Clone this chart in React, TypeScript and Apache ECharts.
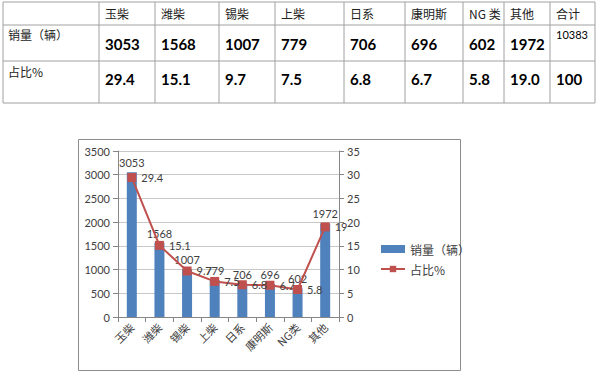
import React, { useEffect, useRef } from "react";
import * as echarts from "echarts";

const categories = ["玉柴", "潍柴", "锡柴", "上柴", "日系", "康明斯", "NG类", "其他"];
const tableHeaders = ["玉柴", "潍柴", "锡柴", "上柴", "日系", "康明斯", "NG 类", "其他", "合计"];
const sales = [3053, 1568, 1007, 779, 706, 696, 602, 1972];
const shares = [29.4, 15.1, 9.7, 7.5, 6.8, 6.7, 5.8, 19];
const salesTotal = 10383;
const sharesTotal = 100;
const leftTicks = { min: 0, max: 3500, interval: 500 };
const rightTicks = { min: 0, max: 35, interval: 5 };

const colX = [3, 99, 155, 219, 275, 344, 405, 463, 504, 550, 595];
const rowY = [2, 25, 61, 103];

export default function App() {
  const ref = useRef<HTMLDivElement>(null);
  useEffect(() => {
    document.body.style.margin = "0";
    const chart = echarts.init(ref.current!, null, { renderer: "svg" });
    const lineColor = "#a0a0a0";
    const graphics: any[] = [];
    graphics.push({
      type: "rect",
      shape: { x: colX[0], y: rowY[0], width: colX[colX.length - 1] - colX[0], height: rowY[3] - rowY[0] },
      style: { fill: "#fff", stroke: lineColor, lineWidth: 1 },
      z: 1,
    });
    for (let i = 1; i < colX.length - 1; i++) {
      graphics.push({
        type: "line",
        shape: { x1: colX[i], y1: rowY[0], x2: colX[i], y2: rowY[3] },
        style: { stroke: lineColor, lineWidth: 1 },
        z: 2,
      });
    }
    for (let j = 1; j < rowY.length - 1; j++) {
      graphics.push({
        type: "line",
        shape: { x1: colX[0], y1: rowY[j], x2: colX[colX.length - 1], y2: rowY[j] },
        style: { stroke: lineColor, lineWidth: 1 },
        z: 2,
      });
    }
    const cjk = "'Noto Sans CJK SC', sans-serif";
    const num = "Lato, 'Noto Sans', sans-serif";
    tableHeaders.forEach((h, i) => {
      graphics.push({
        type: "text",
        x: colX[i + 1] + 6,
        y: 13,
        style: { text: h, font: `12px ${cjk}`, fill: "#222", verticalAlign: "middle" },
        z: 3,
      });
    });
    graphics.push({
      type: "text", x: 8, y: 34,
      style: { text: "销量（辆）", font: `12px ${cjk}`, fill: "#222", verticalAlign: "middle" }, z: 3,
    });
    graphics.push({
      type: "text", x: 8, y: 71,
      style: { text: "占比%", font: `12px ${cjk}`, fill: "#222", verticalAlign: "middle" }, z: 3,
    });
    sales.forEach((v, i) => {
      graphics.push({
        type: "text", x: colX[i + 1] + 6, y: 44,
        style: { text: String(v), font: `bold 15px ${num}`, fill: "#000", verticalAlign: "middle" }, z: 3,
      });
    });
    graphics.push({
      type: "text", x: colX[9] + 6, y: 34,
      style: { text: String(salesTotal), font: `11px ${num}`, fill: "#000", verticalAlign: "middle" }, z: 3,
    });
    shares.forEach((v, i) => {
      graphics.push({
        type: "text", x: colX[i + 1] + 6, y: 79,
        style: { text: v.toFixed(1), font: `bold 15px ${num}`, fill: "#000", verticalAlign: "middle" }, z: 3,
      });
    });
    graphics.push({
      type: "text", x: colX[9] + 6, y: 79,
      style: { text: String(sharesTotal), font: `bold 15px ${num}`, fill: "#000", verticalAlign: "middle" }, z: 3,
    });
    graphics.push({
      type: "rect",
      shape: { x: 78.5, y: 139.5, width: 382, height: 231 },
      style: { fill: "none", stroke: "#8c8c8c", lineWidth: 1 },
      z: -1,
    });

    chart.setOption({
      animation: false,
      backgroundColor: "#fff",
      graphic: graphics,
      grid: { left: 118, right: 261, top: 151, bottom: 59 },
      legend: {
        orient: "vertical",
        left: 375,
        top: 238,
        itemGap: 8,
        itemWidth: 24,
        itemHeight: 8,
        textStyle: { fontSize: 12, color: "#404040", fontFamily: cjk },
        data: [
          { name: "销量（辆）", icon: "rect" },
          { name: "占比%" },
        ],
      },
      xAxis: {
        type: "category",
        data: categories,
        axisLine: { lineStyle: { color: "#868686" } },
        axisTick: { show: true, inside: false, length: 5, lineStyle: { color: "#868686" } },
        axisLabel: { rotate: 45, fontSize: 11, color: "#404040", fontFamily: cjk, margin: 8 },
      },
      yAxis: [
        {
          type: "value",
          ...leftTicks,
          axisLine: { show: true, lineStyle: { color: "#868686" } },
          axisTick: { show: true, length: 5, lineStyle: { color: "#868686" } },
          axisLabel: { fontSize: 11, color: "#404040", fontFamily: num, margin: 8, formatter: (v: number) => String(v) },
          splitLine: { lineStyle: { color: "#c8c8c8" } },
        },
        {
          type: "value",
          ...rightTicks,
          axisLine: { show: true, lineStyle: { color: "#868686" } },
          axisTick: { show: true, length: 5, lineStyle: { color: "#868686" } },
          axisLabel: { fontSize: 11, color: "#404040", fontFamily: num, margin: 8, formatter: (v: number) => String(v) },
          splitLine: { show: false },
        },
      ],
      series: [
        {
          name: "销量（辆）",
          type: "bar",
          data: sales,
          barWidth: 10,
          itemStyle: { color: "#4f81bd" },
          label: { show: true, position: "top", distance: 4, fontSize: 11, color: "#404040", fontFamily: num },
        },
        {
          name: "占比%",
          type: "line",
          yAxisIndex: 1,
          data: shares,
          symbol: "rect",
          symbolSize: 9,
          lineStyle: { color: "#c0504d", width: 2 },
          itemStyle: { color: "#c0504d" },
          label: { show: true, position: "right", distance: 5, fontSize: 11, color: "#404040", fontFamily: num },
        },
      ],
    });
    return () => chart.dispose();
  }, []);
  return <div ref={ref} style={{ width: 600, height: 376 }} />;
}
